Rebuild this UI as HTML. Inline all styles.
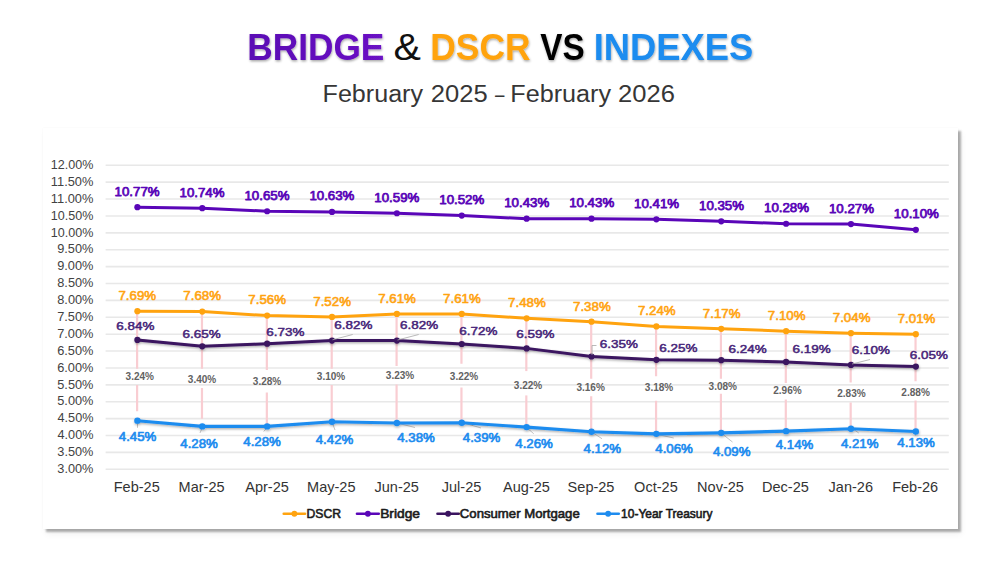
<!DOCTYPE html>
<html lang="en"><head><meta charset="utf-8"><title>Bridge &amp; DSCR vs Indexes</title>
<style>
html,body{margin:0;padding:0;background:#fff;}
body{width:1000px;height:562px;overflow:hidden;position:relative;font-family:"Liberation Sans",sans-serif;}
#panel{position:absolute;left:42.5px;top:128.2px;width:915px;height:400.9px;background:#fff;
 box-shadow:3px 3px 2px rgba(0,0,0,.30),3px 5px 7px rgba(0,0,0,.06),0 0 1.5px rgba(0,0,0,.05);}
svg{position:absolute;left:0;top:0;}
text{font-family:"Liberation Sans",sans-serif;}
.b{font-weight:bold;}
</style></head><body>
<div id="panel"></div>
<svg width="1000" height="562" viewBox="0 0 1000 562">
<defs>
<linearGradient id="gp" x1="0" y1="0" x2="1" y2="0"><stop offset="0" stop-color="#5a0ab4"/><stop offset="1" stop-color="#6a12c4"/></linearGradient>
<filter id="ts" x="-5%" y="-20%" width="110%" height="150%"><feDropShadow dx="0.6" dy="1.4" stdDeviation="0.9" flood-color="#000" flood-opacity="0.35"/></filter>
<filter id="ls" x="-5%" y="-50%" width="110%" height="200%"><feDropShadow dx="0.4" dy="1.3" stdDeviation="0.8" flood-color="#000" flood-opacity="0.32"/></filter>
</defs>

<g filter="url(#ts)">
<text x="247.21" y="59.90" font-size="37.4" font-weight="bold" fill="url(#gp)" textLength="137.18" lengthAdjust="spacingAndGlyphs">BRIDGE</text>
<text x="430.30" y="59.90" font-size="37.4" font-weight="bold" fill="#ffa30f" textLength="100.36" lengthAdjust="spacingAndGlyphs">DSCR</text>
<text x="540.33" y="59.90" font-size="37.4" font-weight="bold" fill="#000" textLength="44.37" lengthAdjust="spacingAndGlyphs">VS</text>
<text x="593.64" y="59.90" font-size="37.4" font-weight="bold" fill="#1e8cef" textLength="159.65" lengthAdjust="spacingAndGlyphs">INDEXES</text>
</g>
<text x="393.56" y="59.90" font-size="37.4" fill="#111" textLength="27.43" lengthAdjust="spacingAndGlyphs">&amp;</text>
<text x="322.59" y="102.40" font-size="23" fill="#363636" textLength="100.45" lengthAdjust="spacingAndGlyphs">February</text>
<text x="430.72" y="102.40" font-size="23" fill="#363636" textLength="56.89" lengthAdjust="spacingAndGlyphs">2025</text>
<text x="495.00" y="102.40" font-size="23" fill="#363636" textLength="9.44" lengthAdjust="spacingAndGlyphs">–</text>
<text x="510.39" y="102.40" font-size="23" fill="#363636" textLength="100.65" lengthAdjust="spacingAndGlyphs">February</text>
<text x="618.12" y="102.40" font-size="23" fill="#363636" textLength="56.89" lengthAdjust="spacingAndGlyphs">2026</text>
<g stroke="#e8e8e8" stroke-width="1.6">
<line x1="105.6" x2="948.8" y1="469.30" y2="469.30"/>
<line x1="105.6" x2="948.8" y1="452.41" y2="452.41"/>
<line x1="105.6" x2="948.8" y1="435.52" y2="435.52"/>
<line x1="105.6" x2="948.8" y1="418.63" y2="418.63"/>
<line x1="105.6" x2="948.8" y1="401.74" y2="401.74"/>
<line x1="105.6" x2="948.8" y1="384.85" y2="384.85"/>
<line x1="105.6" x2="948.8" y1="367.96" y2="367.96"/>
<line x1="105.6" x2="948.8" y1="351.07" y2="351.07"/>
<line x1="105.6" x2="948.8" y1="334.18" y2="334.18"/>
<line x1="105.6" x2="948.8" y1="317.29" y2="317.29"/>
<line x1="105.6" x2="948.8" y1="300.40" y2="300.40"/>
<line x1="105.6" x2="948.8" y1="283.51" y2="283.51"/>
<line x1="105.6" x2="948.8" y1="266.62" y2="266.62"/>
<line x1="105.6" x2="948.8" y1="249.73" y2="249.73"/>
<line x1="105.6" x2="948.8" y1="232.84" y2="232.84"/>
<line x1="105.6" x2="948.8" y1="215.95" y2="215.95"/>
<line x1="105.6" x2="948.8" y1="199.06" y2="199.06"/>
<line x1="105.6" x2="948.8" y1="182.17" y2="182.17"/>
<line x1="105.6" x2="948.8" y1="165.28" y2="165.28"/>
</g>
<g fill="#424242">
<text x="57.35" y="473.00" font-size="12.4" textLength="36.10" lengthAdjust="spacingAndGlyphs">3.00%</text>
<text x="57.35" y="456.11" font-size="12.4" textLength="36.10" lengthAdjust="spacingAndGlyphs">3.50%</text>
<text x="57.55" y="439.22" font-size="12.4" textLength="35.90" lengthAdjust="spacingAndGlyphs">4.00%</text>
<text x="57.55" y="422.33" font-size="12.4" textLength="35.90" lengthAdjust="spacingAndGlyphs">4.50%</text>
<text x="57.29" y="405.44" font-size="12.4" textLength="36.16" lengthAdjust="spacingAndGlyphs">5.00%</text>
<text x="57.29" y="388.55" font-size="12.4" textLength="36.16" lengthAdjust="spacingAndGlyphs">5.50%</text>
<text x="57.16" y="371.66" font-size="12.4" textLength="36.29" lengthAdjust="spacingAndGlyphs">6.00%</text>
<text x="57.16" y="354.77" font-size="12.4" textLength="36.29" lengthAdjust="spacingAndGlyphs">6.50%</text>
<text x="57.16" y="337.88" font-size="12.4" textLength="36.29" lengthAdjust="spacingAndGlyphs">7.00%</text>
<text x="57.16" y="320.99" font-size="12.4" textLength="36.29" lengthAdjust="spacingAndGlyphs">7.50%</text>
<text x="57.29" y="304.10" font-size="12.4" textLength="36.16" lengthAdjust="spacingAndGlyphs">8.00%</text>
<text x="57.29" y="287.21" font-size="12.4" textLength="36.16" lengthAdjust="spacingAndGlyphs">8.50%</text>
<text x="57.23" y="270.32" font-size="12.4" textLength="36.23" lengthAdjust="spacingAndGlyphs">9.00%</text>
<text x="57.23" y="253.43" font-size="12.4" textLength="36.23" lengthAdjust="spacingAndGlyphs">9.50%</text>
<text x="50.86" y="236.54" font-size="12.4" textLength="42.54" lengthAdjust="spacingAndGlyphs">10.00%</text>
<text x="50.86" y="219.65" font-size="12.4" textLength="42.54" lengthAdjust="spacingAndGlyphs">10.50%</text>
<text x="50.84" y="202.76" font-size="12.4" textLength="42.58" lengthAdjust="spacingAndGlyphs">11.00%</text>
<text x="50.84" y="185.87" font-size="12.4" textLength="42.58" lengthAdjust="spacingAndGlyphs">11.50%</text>
<text x="50.86" y="168.98" font-size="12.4" textLength="42.54" lengthAdjust="spacingAndGlyphs">12.00%</text>
</g>
<g fill="#333">
<text x="113.73" y="492.10" font-size="14.1" textLength="46.02" lengthAdjust="spacingAndGlyphs">Feb-25</text>
<text x="178.60" y="492.10" font-size="14.1" textLength="46.00" lengthAdjust="spacingAndGlyphs">Mar-25</text>
<text x="245.25" y="492.10" font-size="14.1" textLength="43.59" lengthAdjust="spacingAndGlyphs">Apr-25</text>
<text x="307.10" y="492.10" font-size="14.1" textLength="48.43" lengthAdjust="spacingAndGlyphs">May-25</text>
<text x="374.48" y="492.10" font-size="14.1" textLength="44.41" lengthAdjust="spacingAndGlyphs">Jun-25</text>
<text x="441.74" y="492.10" font-size="14.1" textLength="39.56" lengthAdjust="spacingAndGlyphs">Jul-25</text>
<text x="503.09" y="492.10" font-size="14.1" textLength="46.83" lengthAdjust="spacingAndGlyphs">Aug-25</text>
<text x="567.64" y="492.10" font-size="14.1" textLength="46.83" lengthAdjust="spacingAndGlyphs">Sep-25</text>
<text x="634.14" y="492.10" font-size="14.1" textLength="43.58" lengthAdjust="spacingAndGlyphs">Oct-25</text>
<text x="697.12" y="492.10" font-size="14.1" textLength="46.82" lengthAdjust="spacingAndGlyphs">Nov-25</text>
<text x="761.99" y="492.10" font-size="14.1" textLength="46.82" lengthAdjust="spacingAndGlyphs">Dec-25</text>
<text x="828.57" y="492.10" font-size="14.1" textLength="44.41" lengthAdjust="spacingAndGlyphs">Jan-26</text>
<text x="892.17" y="492.10" font-size="14.1" textLength="46.02" lengthAdjust="spacingAndGlyphs">Feb-26</text>
</g>
<g stroke="#f9cdd2" stroke-width="2.2">
<line x1="137.10" x2="137.10" y1="311.00" y2="368.75"/>
<line x1="137.10" x2="137.10" y1="385.00" y2="411.25"/>
<line x1="201.97" x2="201.97" y1="311.00" y2="368.75"/>
<line x1="201.97" x2="201.97" y1="388.00" y2="418.75"/>
<line x1="266.84" x2="266.84" y1="315.00" y2="370.00"/>
<line x1="266.84" x2="266.84" y1="392.50" y2="425.50"/>
<line x1="331.71" x2="331.71" y1="316.00" y2="368.75"/>
<line x1="331.71" x2="331.71" y1="385.00" y2="420.00"/>
<line x1="396.58" x2="396.58" y1="313.50" y2="366.00"/>
<line x1="396.58" x2="396.58" y1="384.50" y2="421.00"/>
<line x1="461.45" x2="461.45" y1="313.50" y2="363.75"/>
<line x1="461.45" x2="461.45" y1="387.50" y2="421.00"/>
<line x1="526.32" x2="526.32" y1="318.00" y2="371.10"/>
<line x1="526.32" x2="526.32" y1="395.40" y2="425.00"/>
<line x1="591.19" x2="591.19" y1="321.00" y2="378.75"/>
<line x1="591.19" x2="591.19" y1="396.25" y2="430.00"/>
<line x1="656.06" x2="656.06" y1="326.00" y2="376.25"/>
<line x1="656.06" x2="656.06" y1="400.75" y2="432.00"/>
<line x1="720.93" x2="720.93" y1="328.00" y2="378.75"/>
<line x1="720.93" x2="720.93" y1="393.75" y2="431.00"/>
<line x1="785.80" x2="785.80" y1="330.70" y2="383.00"/>
<line x1="785.80" x2="785.80" y1="399.50" y2="429.00"/>
<line x1="850.67" x2="850.67" y1="332.70" y2="382.50"/>
<line x1="850.67" x2="850.67" y1="402.50" y2="427.00"/>
<line x1="915.54" x2="915.54" y1="333.70" y2="381.25"/>
<line x1="915.54" x2="915.54" y1="400.50" y2="430.00"/>
</g>
<g stroke="#b4b4b4" stroke-width="0.8" fill="none">
<line x1="137.50" y1="420.50" x2="137.50" y2="427.80"/>
<line x1="202.50" y1="427.00" x2="200.00" y2="433.00"/>
<line x1="267.50" y1="427.00" x2="263.75" y2="431.50"/>
<line x1="332.00" y1="422.00" x2="335.00" y2="430.00"/>
<line x1="397.00" y1="423.00" x2="415.00" y2="427.50"/>
<line x1="462.50" y1="422.50" x2="481.00" y2="428.00"/>
<line x1="526.00" y1="427.00" x2="533.75" y2="433.75"/>
<line x1="592.50" y1="432.50" x2="602.00" y2="438.75"/>
<line x1="657.50" y1="434.50" x2="673.75" y2="438.00"/>
<line x1="721.00" y1="433.00" x2="732.50" y2="442.00"/>
<line x1="851.00" y1="427.50" x2="858.75" y2="433.00"/>
<line x1="915.50" y1="431.00" x2="915.50" y2="435.50"/>
</g>
<g filter="url(#ls)"><polyline points="137.40,420.67 202.27,426.41 267.14,426.41 332.01,421.68 396.88,423.03 461.75,422.70 526.62,427.09 591.49,431.82 656.36,433.84 721.23,432.83 786.10,431.14 850.97,428.78 915.84,431.48" fill="none" stroke="#1e8cef" stroke-width="3.1" stroke-linejoin="round" stroke-linecap="round"/><circle cx="137.40" cy="420.67" r="3.2" fill="#1e8cef"/><circle cx="202.27" cy="426.41" r="3.2" fill="#1e8cef"/><circle cx="267.14" cy="426.41" r="3.2" fill="#1e8cef"/><circle cx="332.01" cy="421.68" r="3.2" fill="#1e8cef"/><circle cx="396.88" cy="423.03" r="3.2" fill="#1e8cef"/><circle cx="461.75" cy="422.70" r="3.2" fill="#1e8cef"/><circle cx="526.62" cy="427.09" r="3.2" fill="#1e8cef"/><circle cx="591.49" cy="431.82" r="3.2" fill="#1e8cef"/><circle cx="656.36" cy="433.84" r="3.2" fill="#1e8cef"/><circle cx="721.23" cy="432.83" r="3.2" fill="#1e8cef"/><circle cx="786.10" cy="431.14" r="3.2" fill="#1e8cef"/><circle cx="850.97" cy="428.78" r="3.2" fill="#1e8cef"/><circle cx="915.84" cy="431.48" r="3.2" fill="#1e8cef"/></g>
<g filter="url(#ls)"><polyline points="137.40,339.93 202.27,346.35 267.14,343.65 332.01,340.61 396.88,340.61 461.75,343.99 526.62,348.38 591.49,356.49 656.36,359.87 721.23,360.20 786.10,361.89 850.97,364.93 915.84,366.62" fill="none" stroke="#3b1460" stroke-width="3.0" stroke-linejoin="round" stroke-linecap="round"/><circle cx="137.40" cy="339.93" r="3.1" fill="#3b1460"/><circle cx="202.27" cy="346.35" r="3.1" fill="#3b1460"/><circle cx="267.14" cy="343.65" r="3.1" fill="#3b1460"/><circle cx="332.01" cy="340.61" r="3.1" fill="#3b1460"/><circle cx="396.88" cy="340.61" r="3.1" fill="#3b1460"/><circle cx="461.75" cy="343.99" r="3.1" fill="#3b1460"/><circle cx="526.62" cy="348.38" r="3.1" fill="#3b1460"/><circle cx="591.49" cy="356.49" r="3.1" fill="#3b1460"/><circle cx="656.36" cy="359.87" r="3.1" fill="#3b1460"/><circle cx="721.23" cy="360.20" r="3.1" fill="#3b1460"/><circle cx="786.10" cy="361.89" r="3.1" fill="#3b1460"/><circle cx="850.97" cy="364.93" r="3.1" fill="#3b1460"/><circle cx="915.84" cy="366.62" r="3.1" fill="#3b1460"/></g>
<g><polyline points="137.40,311.22 202.27,311.56 267.14,315.61 332.01,316.96 396.88,313.92 461.75,313.92 526.62,318.32 591.49,321.69 656.36,326.42 721.23,328.79 786.10,331.15 850.97,333.18 915.84,334.19" fill="none" stroke="#ffa30f" stroke-width="3.0" stroke-linejoin="round" stroke-linecap="round"/><circle cx="137.40" cy="311.22" r="3.1" fill="#ffa30f"/><circle cx="202.27" cy="311.56" r="3.1" fill="#ffa30f"/><circle cx="267.14" cy="315.61" r="3.1" fill="#ffa30f"/><circle cx="332.01" cy="316.96" r="3.1" fill="#ffa30f"/><circle cx="396.88" cy="313.92" r="3.1" fill="#ffa30f"/><circle cx="461.75" cy="313.92" r="3.1" fill="#ffa30f"/><circle cx="526.62" cy="318.32" r="3.1" fill="#ffa30f"/><circle cx="591.49" cy="321.69" r="3.1" fill="#ffa30f"/><circle cx="656.36" cy="326.42" r="3.1" fill="#ffa30f"/><circle cx="721.23" cy="328.79" r="3.1" fill="#ffa30f"/><circle cx="786.10" cy="331.15" r="3.1" fill="#ffa30f"/><circle cx="850.97" cy="333.18" r="3.1" fill="#ffa30f"/><circle cx="915.84" cy="334.19" r="3.1" fill="#ffa30f"/></g>
<g><polyline points="137.40,207.18 202.27,208.19 267.14,211.23 332.01,211.91 396.88,213.26 461.75,215.62 526.62,218.66 591.49,218.66 656.36,219.34 721.23,221.37 786.10,223.73 850.97,224.07 915.84,229.81" fill="none" stroke="#5a06b8" stroke-width="3.0" stroke-linejoin="round" stroke-linecap="round"/><circle cx="137.40" cy="207.18" r="3.1" fill="#5a06b8"/><circle cx="202.27" cy="208.19" r="3.1" fill="#5a06b8"/><circle cx="267.14" cy="211.23" r="3.1" fill="#5a06b8"/><circle cx="332.01" cy="211.91" r="3.1" fill="#5a06b8"/><circle cx="396.88" cy="213.26" r="3.1" fill="#5a06b8"/><circle cx="461.75" cy="215.62" r="3.1" fill="#5a06b8"/><circle cx="526.62" cy="218.66" r="3.1" fill="#5a06b8"/><circle cx="591.49" cy="218.66" r="3.1" fill="#5a06b8"/><circle cx="656.36" cy="219.34" r="3.1" fill="#5a06b8"/><circle cx="721.23" cy="221.37" r="3.1" fill="#5a06b8"/><circle cx="786.10" cy="223.73" r="3.1" fill="#5a06b8"/><circle cx="850.97" cy="224.07" r="3.1" fill="#5a06b8"/><circle cx="915.84" cy="229.81" r="3.1" fill="#5a06b8"/></g>
<g stroke="#a8a8a8" stroke-width="0.8" fill="none">
<polyline points="332.5,339.8 352.7,334.5"/>
<polyline points="397.5,340 418.7,334.5"/>
<polyline points="592,355 592,345.5 596.5,345.5"/>
<polyline points="852,364 870,359.5"/>
</g>
<g>
<g fill="#5a06b8" stroke="#5a06b8" stroke-width="0.75" stroke-linejoin="round">
<text x="114.60" y="195.63" font-size="12.3" textLength="45.02" lengthAdjust="spacingAndGlyphs">10.77%</text>
<text x="179.54" y="196.64" font-size="12.3" textLength="45.02" lengthAdjust="spacingAndGlyphs">10.74%</text>
<text x="244.48" y="199.68" font-size="12.3" textLength="45.02" lengthAdjust="spacingAndGlyphs">10.65%</text>
<text x="309.42" y="200.36" font-size="12.3" textLength="45.02" lengthAdjust="spacingAndGlyphs">10.63%</text>
<text x="374.36" y="201.71" font-size="12.3" textLength="45.02" lengthAdjust="spacingAndGlyphs">10.59%</text>
<text x="439.30" y="204.07" font-size="12.3" textLength="45.02" lengthAdjust="spacingAndGlyphs">10.52%</text>
<text x="504.24" y="207.11" font-size="12.3" textLength="45.02" lengthAdjust="spacingAndGlyphs">10.43%</text>
<text x="569.18" y="207.11" font-size="12.3" textLength="45.02" lengthAdjust="spacingAndGlyphs">10.43%</text>
<text x="634.12" y="207.79" font-size="12.3" textLength="45.02" lengthAdjust="spacingAndGlyphs">10.41%</text>
<text x="699.06" y="209.82" font-size="12.3" textLength="45.02" lengthAdjust="spacingAndGlyphs">10.35%</text>
<text x="764.00" y="212.18" font-size="12.3" textLength="45.02" lengthAdjust="spacingAndGlyphs">10.28%</text>
<text x="828.94" y="212.52" font-size="12.3" textLength="45.02" lengthAdjust="spacingAndGlyphs">10.27%</text>
<text x="893.88" y="218.26" font-size="12.3" textLength="45.02" lengthAdjust="spacingAndGlyphs">10.10%</text>
</g><g fill="#ffa30f" stroke="#ffa30f" stroke-width="0.55" stroke-linejoin="round">
<text x="118.43" y="300.07" font-size="12.3" textLength="37.74" lengthAdjust="spacingAndGlyphs">7.69%</text>
<text x="183.37" y="300.41" font-size="12.3" textLength="37.74" lengthAdjust="spacingAndGlyphs">7.68%</text>
<text x="248.31" y="304.46" font-size="12.3" textLength="37.74" lengthAdjust="spacingAndGlyphs">7.56%</text>
<text x="313.25" y="305.81" font-size="12.3" textLength="37.74" lengthAdjust="spacingAndGlyphs">7.52%</text>
<text x="378.19" y="302.77" font-size="12.3" textLength="37.74" lengthAdjust="spacingAndGlyphs">7.61%</text>
<text x="443.13" y="302.77" font-size="12.3" textLength="37.74" lengthAdjust="spacingAndGlyphs">7.61%</text>
<text x="508.07" y="307.17" font-size="12.3" textLength="37.74" lengthAdjust="spacingAndGlyphs">7.48%</text>
<text x="573.01" y="310.54" font-size="12.3" textLength="37.74" lengthAdjust="spacingAndGlyphs">7.38%</text>
<text x="637.95" y="315.27" font-size="12.3" textLength="37.74" lengthAdjust="spacingAndGlyphs">7.24%</text>
<text x="702.89" y="317.64" font-size="12.3" textLength="37.74" lengthAdjust="spacingAndGlyphs">7.17%</text>
<text x="767.83" y="320.00" font-size="12.3" textLength="37.74" lengthAdjust="spacingAndGlyphs">7.10%</text>
<text x="832.77" y="322.03" font-size="12.3" textLength="37.74" lengthAdjust="spacingAndGlyphs">7.04%</text>
<text x="897.71" y="323.04" font-size="12.3" textLength="37.74" lengthAdjust="spacingAndGlyphs">7.01%</text>
</g><g fill="#472579" stroke="#472579" stroke-width="0.5" stroke-linejoin="round">
<text x="116.33" y="330.10" font-size="11.7" textLength="38.05" lengthAdjust="spacingAndGlyphs">6.84%</text>
<text x="182.58" y="337.60" font-size="11.7" textLength="38.05" lengthAdjust="spacingAndGlyphs">6.65%</text>
<text x="266.33" y="335.85" font-size="11.7" textLength="38.05" lengthAdjust="spacingAndGlyphs">6.73%</text>
<text x="334.33" y="329.10" font-size="11.7" textLength="38.05" lengthAdjust="spacingAndGlyphs">6.82%</text>
<text x="400.08" y="329.10" font-size="11.7" textLength="38.05" lengthAdjust="spacingAndGlyphs">6.82%</text>
<text x="459.33" y="335.10" font-size="11.7" textLength="38.05" lengthAdjust="spacingAndGlyphs">6.72%</text>
<text x="516.33" y="337.60" font-size="11.7" textLength="38.05" lengthAdjust="spacingAndGlyphs">6.59%</text>
<text x="599.83" y="348.35" font-size="11.7" textLength="38.05" lengthAdjust="spacingAndGlyphs">6.35%</text>
<text x="659.33" y="351.60" font-size="11.7" textLength="38.05" lengthAdjust="spacingAndGlyphs">6.25%</text>
<text x="728.58" y="352.85" font-size="11.7" textLength="38.05" lengthAdjust="spacingAndGlyphs">6.24%</text>
<text x="792.58" y="352.85" font-size="11.7" textLength="38.05" lengthAdjust="spacingAndGlyphs">6.19%</text>
<text x="851.83" y="354.10" font-size="11.7" textLength="38.05" lengthAdjust="spacingAndGlyphs">6.10%</text>
<text x="909.83" y="359.10" font-size="11.7" textLength="38.05" lengthAdjust="spacingAndGlyphs">6.05%</text>
</g><g fill="#1e8cef" stroke="#1e8cef" stroke-width="0.65" stroke-linejoin="round">
<text x="118.84" y="441.10" font-size="12.3" textLength="37.53" lengthAdjust="spacingAndGlyphs">4.45%</text>
<text x="180.34" y="448.10" font-size="12.3" textLength="37.53" lengthAdjust="spacingAndGlyphs">4.28%</text>
<text x="243.34" y="446.10" font-size="12.3" textLength="37.53" lengthAdjust="spacingAndGlyphs">4.28%</text>
<text x="315.74" y="443.60" font-size="12.3" textLength="37.53" lengthAdjust="spacingAndGlyphs">4.42%</text>
<text x="397.24" y="441.85" font-size="12.3" textLength="37.53" lengthAdjust="spacingAndGlyphs">4.38%</text>
<text x="462.84" y="441.85" font-size="12.3" textLength="37.53" lengthAdjust="spacingAndGlyphs">4.39%</text>
<text x="515.34" y="448.10" font-size="12.3" textLength="37.53" lengthAdjust="spacingAndGlyphs">4.26%</text>
<text x="583.59" y="452.60" font-size="12.3" textLength="37.53" lengthAdjust="spacingAndGlyphs">4.12%</text>
<text x="655.34" y="452.60" font-size="12.3" textLength="37.53" lengthAdjust="spacingAndGlyphs">4.06%</text>
<text x="712.94" y="455.60" font-size="12.3" textLength="37.53" lengthAdjust="spacingAndGlyphs">4.09%</text>
<text x="775.74" y="448.60" font-size="12.3" textLength="37.53" lengthAdjust="spacingAndGlyphs">4.14%</text>
<text x="840.94" y="448.10" font-size="12.3" textLength="37.53" lengthAdjust="spacingAndGlyphs">4.21%</text>
<text x="897.34" y="446.85" font-size="12.3" textLength="37.53" lengthAdjust="spacingAndGlyphs">4.13%</text>
</g></g>
<g fill="#626262">
<text x="125.55" y="380.10" font-size="10.8" font-weight="bold" textLength="28.46" lengthAdjust="spacingAndGlyphs">3.24%</text>
<text x="187.80" y="382.60" font-size="10.8" font-weight="bold" textLength="28.46" lengthAdjust="spacingAndGlyphs">3.40%</text>
<text x="252.80" y="385.10" font-size="10.8" font-weight="bold" textLength="28.46" lengthAdjust="spacingAndGlyphs">3.28%</text>
<text x="316.80" y="380.10" font-size="10.8" font-weight="bold" textLength="28.46" lengthAdjust="spacingAndGlyphs">3.10%</text>
<text x="385.80" y="379.35" font-size="10.8" font-weight="bold" textLength="28.46" lengthAdjust="spacingAndGlyphs">3.23%</text>
<text x="449.80" y="380.10" font-size="10.8" font-weight="bold" textLength="28.46" lengthAdjust="spacingAndGlyphs">3.22%</text>
<text x="513.80" y="388.60" font-size="10.8" font-weight="bold" textLength="28.46" lengthAdjust="spacingAndGlyphs">3.22%</text>
<text x="576.40" y="391.10" font-size="10.8" font-weight="bold" textLength="28.46" lengthAdjust="spacingAndGlyphs">3.16%</text>
<text x="644.80" y="391.10" font-size="10.8" font-weight="bold" textLength="28.46" lengthAdjust="spacingAndGlyphs">3.18%</text>
<text x="708.55" y="390.10" font-size="10.8" font-weight="bold" textLength="28.46" lengthAdjust="spacingAndGlyphs">3.08%</text>
<text x="773.20" y="394.35" font-size="10.8" font-weight="bold" textLength="28.56" lengthAdjust="spacingAndGlyphs">2.96%</text>
<text x="837.20" y="396.85" font-size="10.8" font-weight="bold" textLength="28.56" lengthAdjust="spacingAndGlyphs">2.83%</text>
<text x="901.30" y="395.60" font-size="10.8" font-weight="bold" textLength="28.56" lengthAdjust="spacingAndGlyphs">2.88%</text>
</g>
<g fill="#1c1c1c" stroke-linejoin="round">
<line x1="283.75" x2="305.00" y1="513.75" y2="513.75" stroke="#ffa30f" stroke-width="2.6" stroke-linecap="round"/><circle cx="294.38" cy="513.75" r="2.9" fill="#ffa30f"/><text x="306.53" y="517.50" font-size="12.4" textLength="34.51" lengthAdjust="spacingAndGlyphs" stroke="#1c1c1c" stroke-width="0.6">DSCR</text>
<line x1="357.00" x2="378.75" y1="513.75" y2="513.75" stroke="#5a06b8" stroke-width="2.6" stroke-linecap="round"/><circle cx="367.88" cy="513.75" r="2.9" fill="#5a06b8"/><text x="380.15" y="517.50" font-size="12.4" textLength="39.92" lengthAdjust="spacingAndGlyphs" stroke="#1c1c1c" stroke-width="0.6">Bridge</text>
<line x1="437.50" x2="458.75" y1="513.75" y2="513.75" stroke="#3b1460" stroke-width="2.6" stroke-linecap="round"/><circle cx="448.12" cy="513.75" r="2.9" fill="#3b1460"/><text x="459.84" y="517.50" font-size="12.4" textLength="119.94" lengthAdjust="spacingAndGlyphs" stroke="#1c1c1c" stroke-width="0.6">Consumer Mortgage</text>
<line x1="597.50" x2="618.75" y1="513.75" y2="513.75" stroke="#1e8cef" stroke-width="2.6" stroke-linecap="round"/><circle cx="608.12" cy="513.75" r="2.9" fill="#1e8cef"/><text x="621.10" y="517.50" font-size="12.4" textLength="91.39" lengthAdjust="spacingAndGlyphs" stroke="#1c1c1c" stroke-width="0.6">10-Year Treasury</text>
</g>
</svg></body></html>
